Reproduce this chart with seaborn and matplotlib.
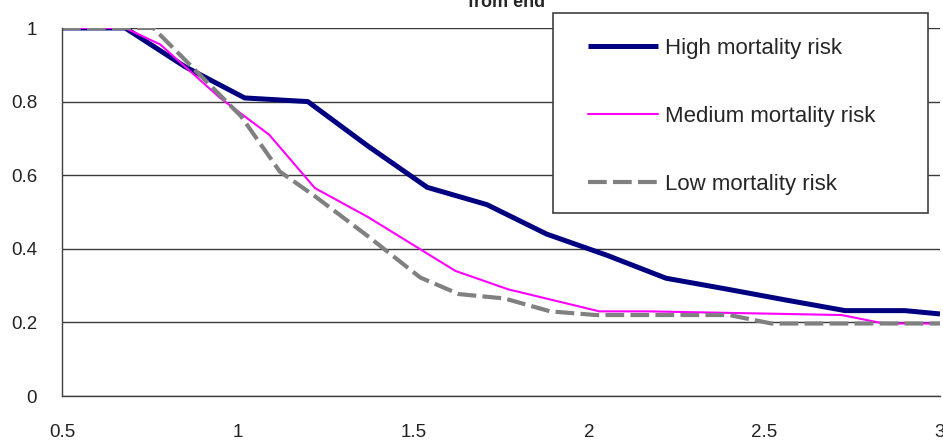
import matplotlib
matplotlib.use("Agg")
import matplotlib.pyplot as plt
import seaborn as sns
from matplotlib.patches import Rectangle

# ---- data ----
high_x = [0.5, 0.68, 0.85, 1.02, 1.20, 1.37, 1.54, 1.71, 1.88, 2.05, 2.22, 2.39, 2.56, 2.73, 2.90, 3.00]
high_y = [1.0, 1.0, 0.895, 0.81, 0.80, 0.68, 0.567, 0.52, 0.44, 0.383, 0.32, 0.291, 0.261, 0.232, 0.232, 0.223]

med_x = [0.5, 0.68, 0.78, 0.95, 1.09, 1.22, 1.37, 1.62, 1.77, 2.03, 2.17, 2.72, 2.84, 3.0]
med_y = [1.0, 1.0, 0.955, 0.81, 0.71, 0.565, 0.487, 0.34, 0.29, 0.23, 0.23, 0.22, 0.197, 0.197]

low_x = [0.5, 0.76, 1.01, 1.12, 1.22, 1.37, 1.52, 1.63, 1.76, 1.89, 2.02, 2.40, 2.52, 3.0]
low_y = [1.0, 1.0, 0.76, 0.61, 0.543, 0.435, 0.322, 0.277, 0.265, 0.23, 0.22, 0.22, 0.197, 0.197]

series_labels = ["High mortality risk", "Medium mortality risk", "Low mortality risk"]
x_ticks = [0.5, 1.0, 1.5, 2.0, 2.5, 3.0]
x_tick_labels = ["0.5", "1", "1.5", "2", "2.5", "3"]
y_ticks = [0, 0.2, 0.4, 0.6, 0.8, 1.0]
y_tick_labels = ["0", "0.2", "0.4", "0.6", "0.8", "1"]
title_text = "from end"

# ---- style ----
sns.set_style("white")
plt.rcParams["font.family"] = ["Liberation Sans", "DejaVu Sans"]

W, H = 943, 440
fig = plt.figure(figsize=(W / 100, H / 100), dpi=100)
ax = fig.add_axes([62 / W, 44 / H, 878 / W, 368 / H])

sns.lineplot(x=high_x, y=high_y, ax=ax, color="#000080", lw=3.6, sort=False,
             label=series_labels[0], solid_joinstyle="round", solid_capstyle="butt")
sns.lineplot(x=med_x, y=med_y, ax=ax, color="#FF00FF", lw=1.5, sort=False,
             label=series_labels[1], solid_joinstyle="round")
sns.lineplot(x=low_x, y=low_y, ax=ax, color="#808080", lw=3.0, sort=False,
             label=series_labels[2], linestyle=(0, (4.5, 1.5)))

ax.set_xlim(0.5, 3.0)
ax.set_ylim(0, 1.0)
ax.set_xticks(x_ticks)
ax.set_xticklabels(x_tick_labels)
ax.set_yticks(y_ticks)
ax.set_yticklabels(y_tick_labels)
ax.set_xlabel("")
ax.set_ylabel("")

ax.set_axisbelow(True)
ax.yaxis.grid(True, color="#3a3a3a", lw=1.0)
ax.xaxis.grid(False)
for s in ["top", "right"]:
    ax.spines[s].set_visible(False)
for s in ["left", "bottom"]:
    ax.spines[s].set_color("#404040")
    ax.spines[s].set_linewidth(1.0)

ax.tick_params(axis="both", direction="out", length=7, width=1.0, color="#404040",
               labelsize=13.5, labelcolor="#222222")
ax.tick_params(axis="x", pad=13)
ax.tick_params(axis="y", pad=11)

# legend box
rect = Rectangle((553 / W, 1 - 213 / H), 375 / W, 200 / H, transform=fig.transFigure,
                 facecolor="white", edgecolor="#404040", lw=1.2, zorder=4, clip_on=False)
ax.add_patch(rect)

handles, labels = ax.get_legend_handles_labels()
fs = 16
fs_px = fs * 100 / 72
leg = ax.legend(handles, labels, loc="upper left", bbox_to_anchor=(588 / W, 1 - 38 / H),
                bbox_transform=fig.transFigure, frameon=False, fontsize=fs, borderpad=0,
                handlelength=70 / fs_px, handletextpad=7 / fs_px, labelspacing=2.12,
                borderaxespad=0)
leg.set_zorder(5)

fig.text(507 / W, 1 - 7 / H, title_text, ha="center", va="baseline",
         fontsize=13, fontweight="bold")

fig.savefig("out.png", dpi=100)
